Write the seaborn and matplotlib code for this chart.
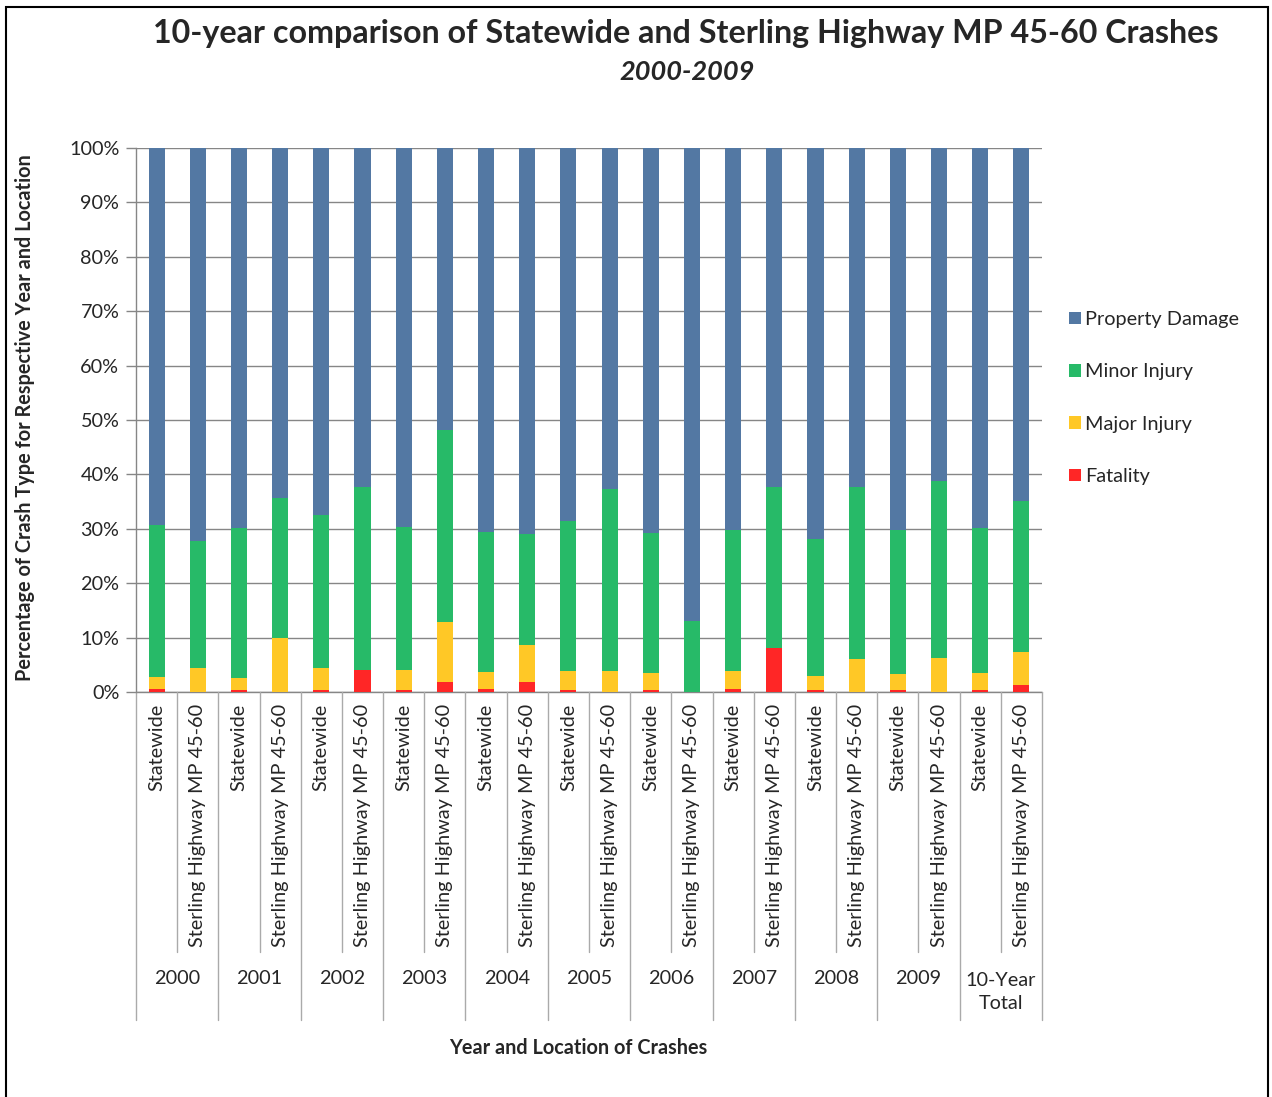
import numpy as np
import pandas as pd
import matplotlib
matplotlib.use("Agg")
import matplotlib.pyplot as plt
from matplotlib.patches import Patch, Rectangle
from matplotlib.transforms import blended_transform_factory
import seaborn as sns

# Crash-type shares (%) per year and location
years = ["2000", "2001", "2002", "2003", "2004", "2005", "2006",
         "2007", "2008", "2009", "10-Year\nTotal"]
locations = ["Statewide", "Sterling Highway MP 45-60"]

fatality = [0.5, 0.0, 0.3, 0.0, 0.3, 4.1, 0.3, 1.85, 0.55, 1.85, 0.3,
            0.0, 0.3, 0.0, 0.55, 8.15, 0.3, 0.0, 0.3, 0.0, 0.3, 1.2]
major_injury = [2.3, 4.4, 2.35, 9.9, 4.1, 0.0, 3.8, 11.05, 3.05, 6.85, 3.5,
                3.8, 3.2, 0.0, 3.25, 0.0, 2.7, 6.05, 3.0, 6.2, 3.2, 6.2]
minor_injury = [27.9, 23.4, 27.45, 25.8, 28.1, 33.5, 26.3, 35.2, 25.8, 20.3, 27.6,
                33.6, 25.7, 13.1, 25.95, 29.45, 25.2, 31.55, 26.45, 32.6, 26.6, 27.8]
property_damage = [69.3, 72.2, 69.9, 64.3, 67.5, 62.4, 69.6, 51.9, 70.6, 71.0, 68.6,
                   62.6, 70.8, 86.9, 70.25, 62.4, 71.8, 62.4, 70.25, 61.2, 69.9, 64.8]

series = [("Fatality", fatality, "#FF2626"),
          ("Major Injury", major_injury, "#FFC826"),
          ("Minor Injury", minor_injury, "#27BA68"),
          ("Property Damage", property_damage, "#5378A3")]

n = len(fatality)
pos = np.arange(n)
df = pd.DataFrame({name: vals for name, vals, _ in series})
df["pos"] = pos
cum = df[[s[0] for s in series]].cumsum(axis=1)

sns.set_style("white")
plt.rcParams["font.family"] = ["Lato", "DejaVu Sans"]

FS = 14.3
W, H = 1272, 1097
fig = plt.figure(figsize=(W / 100, H / 100), dpi=100)
ax = fig.add_axes([136 / W, 1 - 692 / H, (1042 - 136) / W, (692 - 148) / H])

# stacked bars: draw cumulative totals from the top layer down
for name, _, color in reversed(series):
    sns.barplot(x=df["pos"], y=cum[name], color=color, width=0.39,
                saturation=1, native_scale=True, linewidth=0, ax=ax, zorder=3)

ax.set_xlim(-0.5, n - 0.5)
ax.set_ylim(0, 100)
ax.set_yticks(np.arange(0, 101, 10))
ax.set_yticklabels([f"{v}%" for v in range(0, 101, 10)], fontsize=FS)
ax.yaxis.grid(True, color="#868686", linewidth=1.0, zorder=0)
ax.set_axisbelow(True)
ax.tick_params(axis="y", length=7, width=1, color="#868686", pad=5, left=True)
ax.set_xticks([])
ax.set_xlabel("")
ax.set_ylabel("")
for s in ["top", "right", "bottom"]:
    ax.spines[s].set_visible(False)
ax.spines["left"].set_color("#868686")
ax.spines["left"].set_linewidth(1.0)

# category axis below the plot: location labels, year groups and separators
blend = blended_transform_factory(ax.transData, fig.transFigure)
fy = lambda y: 1 - y / H
sep_color = "#AAAAAA"
ax.plot([-0.5, n - 0.5], [fy(692), fy(692)], transform=blend, color="#868686",
        lw=1.0, clip_on=False)
for i in range(n):
    ax.text(pos[i], fy(704), locations[i % 2], rotation=90, ha="center", va="top",
            fontsize=FS, transform=blend)
for g in range(len(years)):
    mid = 2 * g + 0.5
    ax.plot([mid, mid], [fy(692), fy(952)], transform=blend, color=sep_color,
            lw=1.0, clip_on=False)
    left = 2 * g - 0.5
    ax.plot([left, left], [fy(692), fy(1020)], transform=blend, color=sep_color,
            lw=1.0, clip_on=False)
    yc = 992 if "\n" in years[g] else 979
    ax.text(mid, fy(yc), years[g], ha="center", va="center", fontsize=FS,
            transform=blend, linespacing=1.42)
ax.plot([n - 0.5, n - 0.5], [fy(692), fy(1020)], transform=blend, color=sep_color,
        lw=1.0, clip_on=False)

fig.text(578 / W, fy(1048), "Year and Location of Crashes", ha="center", va="center",
         fontsize=FS, fontweight="bold")
fig.text(25 / W, fy(418), "Percentage of Crash Type for Respective Year and Location",
         rotation=90, ha="center", va="center", fontsize=FS, fontweight="bold")

fig.text(686 / W, fy(34), "10-year comparison of Statewide and Sterling Highway MP 45-60 Crashes",
         ha="center", va="center", fontsize=23.2, fontweight="bold")
fig.text(687 / W, fy(72), "2000-2009", ha="center", va="center", fontsize=19.5,
         fontweight="bold", fontstyle="italic")

handles = [Patch(facecolor=c, edgecolor="none", label=name) for name, _, c in reversed(series)]
fig.legend(handles=handles, loc="upper left", bbox_to_anchor=(1061 / W, fy(303)),
           frameon=False, fontsize=14.3, handlelength=0.6, handleheight=0.6,
           handletextpad=0.2, labelspacing=1.78, borderaxespad=0)

# chart frame
fig.patches.append(Rectangle((6 / W, -0.05), (1268 - 6) / W, fy(7) + 0.05,
                             transform=fig.transFigure, fill=False,
                             edgecolor="black", linewidth=1.5))

fig.savefig("out.png", dpi=100, facecolor="white")
